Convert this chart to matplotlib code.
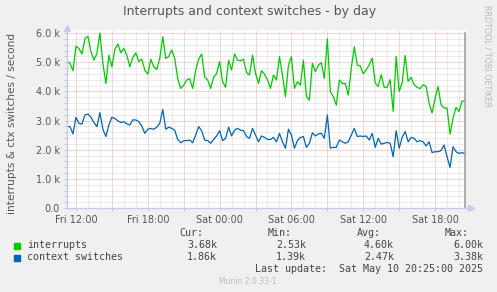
import matplotlib
matplotlib.use("Agg")
import matplotlib.pyplot as plt
import matplotlib.dates as mdates
from matplotlib.ticker import FuncFormatter, MultipleLocator
import datetime as dt

# ---- data (values in thousands per second, 15-minute samples) ----
start_time = dt.datetime(2025, 5, 9, 11, 15)
step_minutes = 15

interrupts = [
    5.02, 4.96, 4.71, 5.55, 5.47, 5.28, 5.81, 5.89, 5.36, 5.07,
    5.30, 6.00, 4.96, 4.27, 5.24, 4.84, 5.44, 5.62, 5.32, 5.47,
    5.24, 4.84, 5.16, 5.32, 5.02, 5.10, 4.73, 4.59, 5.10, 4.84,
    4.75, 5.13, 5.87, 5.13, 5.19, 5.42, 5.13, 4.44, 4.10, 4.21,
    4.39, 4.44, 4.10, 4.73, 5.10, 5.28, 4.50, 4.39, 4.10, 4.48,
    4.61, 5.02, 4.33, 4.14, 5.07, 4.73, 5.28, 5.07, 5.05, 5.10,
    4.64, 4.56, 5.24, 4.62, 4.27, 4.71, 4.59, 4.39, 4.10, 4.56,
    4.39, 5.19, 4.56, 3.82, 4.90, 5.19, 4.10, 4.33, 4.21, 5.07,
    3.82, 3.70, 4.96, 4.67, 4.90, 4.98, 4.44, 5.80, 3.99, 3.82,
    3.53, 4.39, 4.27, 4.27, 3.87, 4.79, 5.53, 4.90, 4.87, 4.60,
    4.74, 4.91, 5.14, 4.28, 4.17, 4.57, 4.14, 4.14, 4.40, 3.31,
    5.20, 4.00, 4.28, 5.23, 4.34, 4.48, 4.23, 4.14, 4.09, 4.23,
    4.17, 3.60, 3.26, 3.75, 4.17, 3.54, 3.43, 3.43, 2.53, 3.08,
    3.45, 3.31, 3.66, 3.68,
]

context_switches = [
    2.79, 2.79, 2.54, 3.11, 2.90, 2.88, 3.19, 3.22, 3.11, 2.93,
    2.79, 3.27, 2.70, 2.45, 2.85, 3.11, 3.07, 2.99, 2.93, 2.96,
    2.88, 2.85, 3.02, 3.02, 2.96, 2.81, 2.56, 2.70, 2.73, 2.70,
    2.77, 2.90, 3.38, 2.70, 2.77, 2.73, 2.67, 2.35, 2.24, 2.31,
    2.31, 2.33, 2.24, 2.50, 2.79, 2.65, 2.33, 2.31, 2.22, 2.35,
    2.47, 2.65, 2.31, 2.39, 2.77, 2.47, 2.67, 2.73, 2.67, 2.65,
    2.45, 2.39, 2.73, 2.50, 2.27, 2.47, 2.42, 2.35, 2.35, 2.42,
    2.27, 2.56, 2.27, 2.05, 2.70, 2.50, 2.05, 2.31, 2.42, 2.45,
    2.08, 2.22, 2.58, 2.47, 2.54, 2.56, 2.39, 3.19, 2.05, 2.08,
    2.08, 2.33, 2.27, 2.22, 2.27, 2.50, 2.73, 2.45, 2.47, 2.45,
    2.47, 2.33, 2.56, 2.08, 2.39, 2.19, 2.22, 2.25, 2.22, 1.76,
    2.65, 2.05, 2.42, 2.62, 2.27, 2.42, 2.39, 2.27, 2.31, 2.27,
    2.13, 2.27, 1.90, 1.93, 1.93, 1.97, 2.16, 1.76, 1.39, 2.10,
    1.93, 1.87, 1.90, 1.86,
]

series_names = ["interrupts", "context switches"]
series_colors = ["#00CC00", "#0066B3"]
col_headers = ["Cur:", "Min:", "Avg:", "Max:"]
stats = [
    ["3.68k", "2.53k", "4.60k", "6.00k"],
    ["1.86k", "1.39k", "2.47k", "3.38k"],
]
title = "Interrupts and context switches - by day"
ylabel = "interrupts & ctx switches / second"
last_update = "Last update:  Sat May 10 20:25:00 2025"
footer = "Munin 2.0.33-1"
side_text = "RRDTOOL / TOBI OETIKER"

times = [start_time + dt.timedelta(minutes=step_minutes * i) for i in range(len(interrupts))]
x_start = dt.datetime(2025, 5, 9, 11, 15)
x_end = dt.datetime(2025, 5, 10, 20, 30)

# ---- figure ----
W, H = 497, 292
fig = plt.figure(figsize=(W / 100, H / 100), dpi=100, facecolor="#F0F0F0")

def fx(px):
    return px / W

def fy(py):
    return 1 - py / H

left, right, top, bottom = 67, 465, 30.1, 208
ax = fig.add_axes([fx(left), fy(bottom), fx(right) - fx(left), fy(top) - fy(bottom)])
ax.set_facecolor("white")

ax.set_xlim(mdates.date2num(x_start), mdates.date2num(x_end))
ax.set_ylim(0, 6.1)

ax.xaxis.set_major_locator(mdates.HourLocator(byhour=range(0, 24, 3)))
ax.xaxis.set_minor_locator(mdates.HourLocator())

def xfmt(v, pos):
    d = mdates.num2date(v)
    if d.hour % 6 == 0:
        return d.strftime("%a %H:%M")
    return ""

ax.xaxis.set_major_formatter(FuncFormatter(xfmt))
ax.yaxis.set_major_locator(MultipleLocator(1.0))
ax.yaxis.set_minor_locator(MultipleLocator(0.2))

def yfmt(v, pos):
    if abs(v) < 1e-9:
        return "0.0"
    return f"{v:.1f} k"

ax.yaxis.set_major_formatter(FuncFormatter(yfmt))

dot = (0, (1, 1))
ax.grid(which="minor", color="#DADADA", linestyle=dot, linewidth=0.72)
ax.grid(which="major", color="#EBA8A8", linestyle=dot, linewidth=0.72)
ax.set_axisbelow(True)

for sp in ax.spines.values():
    sp.set_visible(False)

ax.tick_params(which="both", length=2, width=0.7, color="#C8C8C8",
               labelsize=7, labelcolor="#555555", pad=3)
ax.tick_params(axis="x", which="minor", length=0)

ax.plot(times, interrupts, color=series_colors[0], lw=0.9, zorder=3)
ax.plot(times, context_switches, color=series_colors[1], lw=0.9, zorder=4)

ax.plot([1, 1], [0, 6.0 / 6.1], transform=ax.transAxes, color="#A0A0A0",
        lw=1.2, clip_on=False, zorder=5)

axis_col = "#C8C8F0"
ax.plot([0, 0], [0, 1.0], transform=ax.transAxes, color=axis_col, lw=1.0, clip_on=False, zorder=6)
ax.plot([0, 1.0 + 5 / 398], [0, 0], transform=ax.transAxes, color=axis_col, lw=1.0, clip_on=False, zorder=6)
ax.plot([0], [1.0 + 2 / 178], marker="^", transform=ax.transAxes, color=axis_col,
        markersize=4, clip_on=False, zorder=6)
ax.plot([1.0 + 6 / 398], [0], marker=">", transform=ax.transAxes, color=axis_col,
        markersize=4, clip_on=False, zorder=6)

fig.text(fx(250), fy(12), title, ha="center", va="center", fontsize=9,
         color="#555555", family="DejaVu Sans")
fig.text(fx(12), fy(123), ylabel, ha="center", va="center", rotation=90,
         fontsize=7.6, color="#555555", family="DejaVu Sans")
fig.text(fx(487), fy(5), side_text, ha="center", va="top", rotation=270,
         fontsize=5.8, color="#B8B8B8", family="DejaVu Sans")

mono = "DejaVu Sans Mono"
fs = 7.2
txtc = "#444444"
hdr_right = [203, 292, 381, 469]
val_right = [217, 306, 394, 483]
for h, xr in zip(col_headers, hdr_right):
    fig.text(fx(xr), fy(233), h, ha="right", va="center", fontsize=fs, family=mono, color=txtc)

row_y = [245.5, 257.5]
for name, colr, st, yy in zip(series_names, series_colors, stats, row_y):
    fig.patches.append(matplotlib.patches.Rectangle((fx(14), fy(yy + 3)), fx(6), 6 / H,
                                                    transform=fig.transFigure, color=colr))
    fig.text(fx(27), fy(yy), name, ha="left", va="center", fontsize=fs, family=mono, color=txtc)
    for s, xr in zip(st, val_right):
        fig.text(fx(xr), fy(yy), s, ha="right", va="center", fontsize=fs, family=mono, color=txtc)

fig.text(fx(483), fy(269.5), last_update, ha="right", va="center", fontsize=fs, family=mono, color=txtc)
fig.text(fx(248), fy(281), footer, ha="center", va="center", fontsize=5.5,
         color="#BBBBBB", family="DejaVu Sans")

fig.savefig("out.png", dpi=100, facecolor=fig.get_facecolor())
